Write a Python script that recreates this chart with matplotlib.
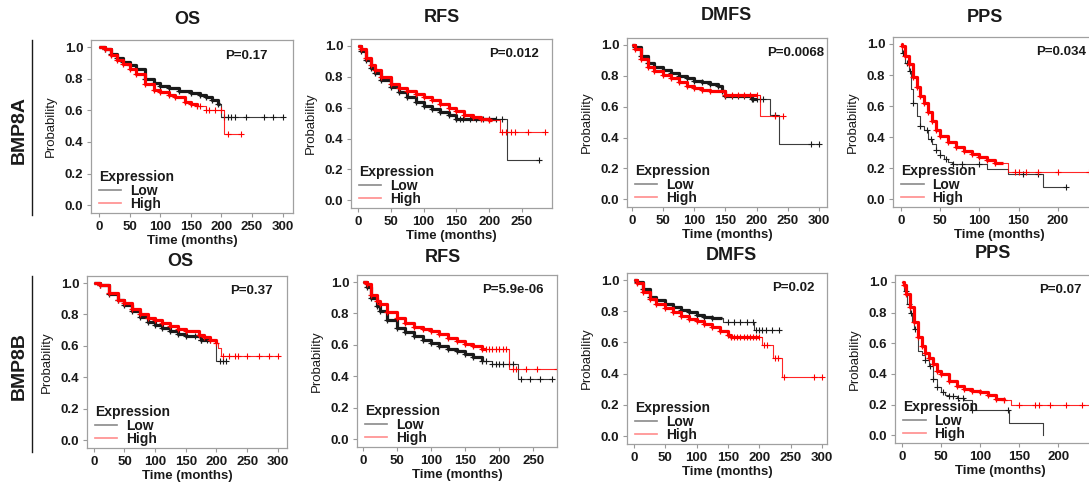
import matplotlib
import numpy as np

matplotlib.use("Agg")
import matplotlib.pyplot as plt
from matplotlib.lines import Line2D

plt.rcParams["font.family"] = ["Liberation Sans", "DejaVu Sans"]

GENES = ["BMP8A", "BMP8B"]
ENDPOINTS = ["OS", "RFS", "DMFS", "PPS"]
P_VALUES = [
    ["P=0.17", "P=0.012", "P=0.0068", "P=0.034"],
    ["P=0.37", "P=5.9e-06", "P=0.02", "P=0.07"],
]

# ---- BMP8A ----
A_OS_LOW_T = [0, 10, 20, 30, 40, 50, 60, 75, 90, 100, 115, 130, 150, 165, 175, 185, 195, 200]
A_OS_LOW_S = [1, 0.985, 0.955, 0.93, 0.905, 0.885, 0.86, 0.80, 0.772, 0.757, 0.74, 0.722, 0.708, 0.70, 0.685, 0.665, 0.637, 0.555]
A_OS_LOW_END = 300
A_OS_LOW_CENS = [205, 210, 215, 222, 240, 270, 285, 300]
A_OS_HIGH_T = [0, 10, 20, 30, 40, 50, 60, 75, 90, 100, 115, 125, 140, 150, 160, 175, 205]
A_OS_HIGH_S = [1, 0.985, 0.95, 0.92, 0.89, 0.862, 0.83, 0.767, 0.73, 0.714, 0.695, 0.682, 0.655, 0.64, 0.63, 0.60, 0.449]
A_OS_HIGH_END = 232
A_OS_HIGH_CENS = [165, 175, 180, 190, 200, 210, 232]

A_RFS_LOW_T = [0, 5, 12, 20, 25, 35, 50, 62, 75, 88, 100, 112, 125, 138, 150, 228]
A_RFS_LOW_S = [1, 0.97, 0.91, 0.86, 0.826, 0.78, 0.731, 0.70, 0.667, 0.64, 0.614, 0.59, 0.572, 0.555, 0.525, 0.258]
A_RFS_LOW_END = 276
A_RFS_LOW_CENS = [155, 160, 170, 180, 190, 200, 210, 220, 276]
A_RFS_HIGH_T = [0, 5, 12, 20, 25, 35, 50, 62, 75, 88, 100, 112, 125, 138, 150, 162, 175, 188, 200, 216]
A_RFS_HIGH_S = [1, 0.98, 0.92, 0.875, 0.847, 0.80, 0.756, 0.73, 0.706, 0.688, 0.667, 0.648, 0.625, 0.60, 0.578, 0.555, 0.54, 0.525, 0.519, 0.44]
A_RFS_HIGH_END = 285
A_RFS_HIGH_CENS = [220, 225, 233, 240, 260, 285]

A_DMFS_LOW_T = [0, 5, 15, 25, 35, 50, 62, 75, 88, 100, 112, 125, 138, 145, 150, 192, 222, 236]
A_DMFS_LOW_S = [1, 0.985, 0.93, 0.88, 0.857, 0.837, 0.82, 0.80, 0.783, 0.767, 0.757, 0.746, 0.735, 0.70, 0.668, 0.65, 0.547, 0.36]
A_DMFS_LOW_END = 300
A_DMFS_LOW_CENS = [160, 170, 180, 190, 195, 200, 205, 210, 230, 287, 300]
A_DMFS_HIGH_T = [0, 5, 15, 25, 35, 50, 62, 75, 88, 100, 112, 125, 150, 205]
A_DMFS_HIGH_S = [1, 0.975, 0.91, 0.858, 0.83, 0.805, 0.785, 0.763, 0.735, 0.72, 0.71, 0.70, 0.678, 0.54]
A_DMFS_HIGH_END = 243
A_DMFS_HIGH_CENS = [160, 170, 180, 190, 200, 230, 243]

A_PPS_LOW_T = [0, 2, 5, 10, 13, 15, 20, 25, 30, 35, 40, 45, 50, 55, 60, 65, 110, 137, 181]
A_PPS_LOW_S = [1, 0.94, 0.88, 0.826, 0.709, 0.62, 0.538, 0.474, 0.443, 0.389, 0.357, 0.315, 0.283, 0.262, 0.24, 0.226, 0.194, 0.162, 0.077]
A_PPS_LOW_END = 210
A_PPS_LOW_CENS = [3, 8, 12, 15, 25, 33, 38, 45, 50, 58, 67, 78, 100, 156, 175, 210]
A_PPS_HIGH_T = [0, 2, 5, 10, 15, 20, 25, 30, 35, 40, 45, 50, 60, 70, 80, 90, 100, 110, 120, 137]
A_PPS_HIGH_S = [1, 0.985, 0.92, 0.868, 0.79, 0.72, 0.666, 0.623, 0.56, 0.506, 0.443, 0.41, 0.368, 0.336, 0.309, 0.294, 0.272, 0.251, 0.234, 0.177]
A_PPS_HIGH_END = 240
A_PPS_HIGH_CENS = [145, 150, 160, 175, 200, 240]

# ---- BMP8B ----
B_OS_LOW_T = [0, 10, 25, 40, 50, 62, 75, 88, 100, 112, 125, 138, 150, 175, 195, 200]
B_OS_LOW_S = [1, 0.985, 0.932, 0.89, 0.862, 0.82, 0.784, 0.755, 0.735, 0.712, 0.693, 0.678, 0.665, 0.64, 0.63, 0.502]
B_OS_LOW_END = 215
B_OS_LOW_CENS = [165, 175, 185, 190, 205, 210, 215]
B_OS_HIGH_T = [0, 10, 25, 40, 50, 62, 75, 88, 100, 112, 125, 138, 150, 172, 180, 190, 200, 203, 207]
B_OS_HIGH_S = [1, 0.985, 0.936, 0.895, 0.873, 0.835, 0.805, 0.78, 0.763, 0.745, 0.729, 0.71, 0.693, 0.672, 0.655, 0.64, 0.619, 0.587, 0.538]
B_OS_HIGH_END = 300
B_OS_HIGH_CENS = [210, 220, 230, 235, 250, 270, 285, 300]

B_RFS_LOW_T = [0, 5, 12, 20, 25, 35, 50, 62, 75, 88, 100, 112, 125, 138, 150, 162, 175, 190, 227]
B_RFS_LOW_S = [1, 0.97, 0.90, 0.85, 0.816, 0.76, 0.71, 0.68, 0.657, 0.633, 0.614, 0.595, 0.576, 0.558, 0.54, 0.52, 0.498, 0.477, 0.381]
B_RFS_LOW_END = 277
B_RFS_LOW_CENS = [180, 190, 195, 200, 205, 215, 220, 232, 245, 260, 277]
B_RFS_HIGH_T = [0, 5, 12, 20, 25, 35, 50, 62, 75, 88, 100, 112, 125, 138, 150, 162, 175, 215]
B_RFS_HIGH_S = [1, 0.985, 0.92, 0.88, 0.858, 0.81, 0.773, 0.74, 0.716, 0.70, 0.689, 0.668, 0.646, 0.625, 0.604, 0.59, 0.572, 0.449]
B_RFS_HIGH_END = 285
B_RFS_HIGH_CENS = [180, 185, 190, 195, 200, 205, 210, 220, 225, 240, 255, 285]

B_DMFS_LOW_T = [0, 5, 15, 25, 35, 50, 62, 75, 88, 100, 112, 125, 142, 192]
B_DMFS_LOW_S = [1, 0.985, 0.94, 0.894, 0.87, 0.847, 0.827, 0.809, 0.793, 0.778, 0.765, 0.756, 0.73, 0.68]
B_DMFS_LOW_END = 232
B_DMFS_LOW_CENS = [150, 160, 170, 180, 190, 195, 200, 205, 210, 220, 232]
B_DMFS_HIGH_T = [0, 5, 15, 25, 35, 50, 62, 75, 88, 100, 112, 125, 138, 150, 155, 205, 222, 237]
B_DMFS_HIGH_S = [1, 0.98, 0.925, 0.877, 0.845, 0.82, 0.795, 0.771, 0.752, 0.735, 0.72, 0.699, 0.675, 0.65, 0.636, 0.587, 0.502, 0.379]
B_DMFS_HIGH_END = 300
B_DMFS_HIGH_CENS = [160, 165, 170, 175, 180, 185, 190, 195, 200, 208, 212, 225, 230, 240, 287, 300]

B_PPS_LOW_T = [0, 3, 7, 10, 13, 15, 20, 25, 30, 35, 40, 45, 50, 55, 60, 70, 80, 90, 137, 181]
B_PPS_LOW_S = [1, 0.94, 0.855, 0.80, 0.738, 0.696, 0.547, 0.526, 0.494, 0.451, 0.366, 0.313, 0.281, 0.26, 0.255, 0.243, 0.228, 0.164, 0.079, 0.0]
B_PPS_LOW_END = 181
B_PPS_LOW_CENS = [5, 9, 12, 17, 30, 36, 40, 45, 52, 60, 65, 72, 78, 90, 136]
B_PPS_HIGH_T = [0, 2, 5, 10, 15, 20, 25, 30, 35, 40, 45, 50, 60, 70, 80, 90, 100, 110, 120, 130, 140]
B_PPS_HIGH_S = [1, 0.983, 0.92, 0.834, 0.738, 0.643, 0.579, 0.536, 0.504, 0.462, 0.419, 0.398, 0.355, 0.323, 0.302, 0.291, 0.281, 0.26, 0.238, 0.228, 0.20]
B_PPS_HIGH_END = 250
B_PPS_HIGH_CENS = [150, 170, 175, 190, 210, 230, 250]

# months up to which censor marks overlap into a solid band
DENSE_END = [
    [(198, 160), (210, 205), (200, 200), (0, 130)],
    [(190, 200), (175, 180), (140, 200), (0, 130)],
]

CURVES = [
    [
        ((A_OS_LOW_T, A_OS_LOW_S, A_OS_LOW_END, A_OS_LOW_CENS), (A_OS_HIGH_T, A_OS_HIGH_S, A_OS_HIGH_END, A_OS_HIGH_CENS)),
        ((A_RFS_LOW_T, A_RFS_LOW_S, A_RFS_LOW_END, A_RFS_LOW_CENS), (A_RFS_HIGH_T, A_RFS_HIGH_S, A_RFS_HIGH_END, A_RFS_HIGH_CENS)),
        ((A_DMFS_LOW_T, A_DMFS_LOW_S, A_DMFS_LOW_END, A_DMFS_LOW_CENS), (A_DMFS_HIGH_T, A_DMFS_HIGH_S, A_DMFS_HIGH_END, A_DMFS_HIGH_CENS)),
        ((A_PPS_LOW_T, A_PPS_LOW_S, A_PPS_LOW_END, A_PPS_LOW_CENS), (A_PPS_HIGH_T, A_PPS_HIGH_S, A_PPS_HIGH_END, A_PPS_HIGH_CENS)),
    ],
    [
        ((B_OS_LOW_T, B_OS_LOW_S, B_OS_LOW_END, B_OS_LOW_CENS), (B_OS_HIGH_T, B_OS_HIGH_S, B_OS_HIGH_END, B_OS_HIGH_CENS)),
        ((B_RFS_LOW_T, B_RFS_LOW_S, B_RFS_LOW_END, B_RFS_LOW_CENS), (B_RFS_HIGH_T, B_RFS_HIGH_S, B_RFS_HIGH_END, B_RFS_HIGH_CENS)),
        ((B_DMFS_LOW_T, B_DMFS_LOW_S, B_DMFS_LOW_END, B_DMFS_LOW_CENS), (B_DMFS_HIGH_T, B_DMFS_HIGH_S, B_DMFS_HIGH_END, B_DMFS_HIGH_CENS)),
        ((B_PPS_LOW_T, B_PPS_LOW_S, B_PPS_LOW_END, B_PPS_LOW_CENS), (B_PPS_HIGH_T, B_PPS_HIGH_S, B_PPS_HIGH_END, B_PPS_HIGH_CENS)),
    ],
]

# layout in pixels: (left, top, right, bottom) of each axes box, xlim
W, H = 1089, 488
BOXES = [
    [(91, 40, 293, 213), (351, 39, 552, 208), (627, 38, 827, 207), (893, 37, 1105, 207)],
    [(87, 276, 287, 448), (357, 275, 557, 447), (627, 273, 827, 444), (895, 275, 1105, 443)],
]
XLIMS = [
    [(-13, 317), (-11, 296), (-8, 313), (-10, 260)],
    [(-11, 315), (-9, 285), (-11, 308), (-9, 260)],
]
XTICKS = [
    [[0, 50, 100, 150, 200, 250, 300], [0, 50, 100, 150, 200, 250], [0, 50, 100, 150, 200, 250, 300], [0, 50, 100, 150, 200]],
    [[0, 50, 100, 150, 200, 250, 300], [0, 50, 100, 150, 200, 250], [0, 50, 100, 150, 200, 250, 300], [0, 50, 100, 150, 200]],
]
TITLE_POS = [
    [(187, 19), (442, 18), (726, 16), (985, 17)],
    [(180, 261), (443, 257), (731, 255), (993, 254)],
]
P_X = [[0.875, 0.935, 0.985, 0.91], [0.93, 0.935, 0.935, 0.89]]
ROW_LABEL_Y = [130, 366]
ROW_LINE = [(40, 215), (276, 452)]

LOW_COLOR = "#1a1a1a"
HIGH_COLOR = "#ff0000"
TEXT_COLOR = "#1a1a1a"


def step_value(t, s, x):
    idx = np.searchsorted(np.asarray(t), x, side="right") - 1
    return np.asarray(s)[idx]


def draw_curve(ax, t, s, end, cens, dense_end, color):
    tt = list(t) + [end]
    ss = list(s) + [s[-1]]
    ax.step(tt, ss, where="post", color=color, lw=0.8, alpha=0.85)
    if dense_end > 0:
        td = [x for x in t if x <= dense_end] + [dense_end]
        sd = list(s[: len(td) - 1]) + [s[len(td) - 2]]
        ax.step(td, sd, where="post", color=color, lw=2.3, solid_capstyle="butt")
        knots_t = [x for x in t[1:] if x <= dense_end]
        ax.plot(knots_t, step_value(t, s, knots_t), "+", color=color, ms=4.5, mew=0.9)
    ax.plot(cens, step_value(t, s, cens), "+", color=color, ms=4, mew=0.8)


fig = plt.figure(figsize=(W / 100, H / 100), dpi=100)

for r in range(2):
    for c in range(4):
        left, top, right, bottom = BOXES[r][c]
        ax = fig.add_axes([left / W, 1 - bottom / H, (right - left) / W, (bottom - top) / H])
        low, high = CURVES[r][c]
        dl, dh = DENSE_END[r][c]
        draw_curve(ax, *low, dl, LOW_COLOR)
        draw_curve(ax, *high, dh, HIGH_COLOR)

        ax.set_xlim(*XLIMS[r][c])
        ax.set_ylim(-0.05, 1.045)
        ax.set_xticks(XTICKS[r][c])
        ax.set_yticks([0, 0.2, 0.4, 0.6, 0.8, 1.0])
        ax.set_yticklabels(["0.0", "0.2", "0.4", "0.6", "0.8", "1.0"])
        ax.tick_params(direction="out", length=3, width=0.8, color="#999999",
                       labelsize=9.5, labelcolor=TEXT_COLOR, pad=2.5)
        for lab in ax.get_xticklabels() + ax.get_yticklabels():
            lab.set_fontweight("bold")
        for sp in ax.spines.values():
            sp.set_color("#a0a0a0")
            sp.set_linewidth(0.9)
        ax.set_xlabel("Time (months)", fontsize=9.5, fontweight="bold", labelpad=1.5, color=TEXT_COLOR)
        ax.set_ylabel("Probability", fontsize=9.5, labelpad=6, color=TEXT_COLOR)

        ax.text(P_X[r][c], 0.91, P_VALUES[r][c], transform=ax.transAxes, ha="right", va="center",
                fontsize=9.5, fontweight="bold", color=TEXT_COLOR)

        handles = [Line2D([], [], color="#8a8a8a", lw=1.2), Line2D([], [], color="#ff8c8c", lw=1.2)]
        leg = ax.legend(handles, ["Low", "High"], title="Expression", loc="lower left",
                        bbox_to_anchor=(0.03, 0.0), frameon=False, handlelength=1.6,
                        handletextpad=0.6, labelspacing=-0.05, borderpad=0.15, borderaxespad=0,
                        alignment="left", prop={"size": 10, "weight": "bold"},
                        title_fontproperties={"size": 10, "weight": "bold"})
        for txt in leg.get_texts():
            txt.set_color(TEXT_COLOR)
        leg.get_title().set_color(TEXT_COLOR)

        tx, ty = TITLE_POS[r][c]
        fig.text(tx / W, 1 - ty / H, ENDPOINTS[c], ha="center", va="center",
                 fontsize=13, fontweight="bold", color=TEXT_COLOR)

    fig.text(19 / W, 1 - ROW_LABEL_Y[r] / H, GENES[r], rotation=90, ha="center", va="center",
             fontsize=14, fontweight="bold", color=TEXT_COLOR)
    y0, y1 = ROW_LINE[r]
    fig.add_artist(Line2D([32 / W, 32 / W], [1 - y0 / H, 1 - y1 / H], color=TEXT_COLOR, lw=1.0))

fig.savefig("out.png", dpi=100)
